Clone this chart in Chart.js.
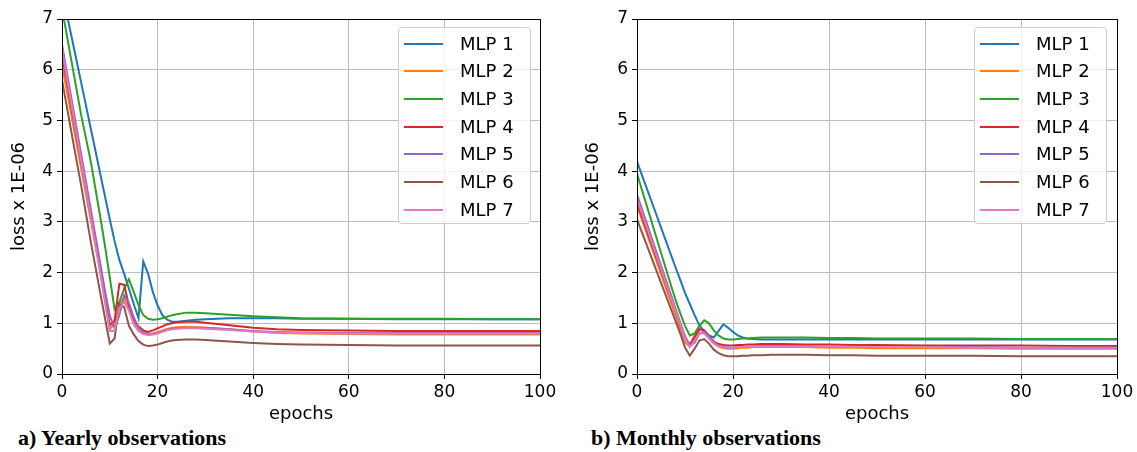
<!DOCTYPE html>
<html>
<head>
<meta charset="utf-8">
<script src="https://cdn.jsdelivr.net/npm/chart.js@4/dist/chart.umd.min.js"></script>
<style>
  html, body { margin: 0; padding: 0; background: #fff; }
  #page { position: relative; width: 1137px; height: 452px; overflow: hidden; background: #fff; }
  .panel { position: absolute; top: 0; }
  .legend {
    position: absolute; box-sizing: border-box; z-index: 2;
    border: 1px solid #cccccc; border-radius: 4px;
    background: rgba(255, 255, 255, 0.8);
    font-family: 'DejaVu Sans', sans-serif; font-size: 18px; color: #000;
  }
  .legend .swatch { position: absolute; height: 2px; }
  .legend .name { position: absolute; height: 28px; line-height: 28px; white-space: nowrap; }
  .caption {
    position: absolute; white-space: nowrap; color: #000;
    font-family: 'Liberation Serif', 'Times New Roman', serif; font-weight: bold;
    font-size: 22px; line-height: 1;
  }
</style>
</head>
<body>
<div id="page">
  <canvas id="yearly" class="panel" width="568" height="425" style="left:0px;width:568px;height:425px"></canvas>
  <canvas id="monthly" class="panel" width="569" height="425" style="left:568px;width:569px;height:425px"></canvas>
  <div class="caption" style="left:18px;top:427px">a) Yearly observations</div>
  <div class="caption" style="left:591px;top:427px">b) Monthly observations</div>
</div>
<script>
// Training epochs at which the loss is sampled (shared by every curve)
const EPOCHS = [0, 2, 4, 6, 8, 9, 10, 11, 12, 13, 14, 15, 16, 17, 18, 19, 20, 21, 22, 23, 24,
                26, 28, 30, 35, 40, 45, 50, 60, 70, 80, 90, 100];

const SERIES = ['MLP 1', 'MLP 2', 'MLP 3', 'MLP 4', 'MLP 5', 'MLP 6', 'MLP 7'];
const X_TICKS = [0, 20, 40, 60, 80, 100];
const Y_TICKS = [0, 1, 2, 3, 4, 5, 6, 7];

// Loss (x 1E-06) per epoch — yearly observations
const yearlyMLP1 = [7.55, 6.65, 5.75, 4.85, 3.95, 3.50, 3.05, 2.62, 2.25, 1.98, 1.68, 1.38, 1.10, 2.22, 1.98,
                    1.62, 1.35, 1.16, 1.07, 1.03, 1.03, 1.05, 1.07, 1.08, 1.10, 1.10, 1.10, 1.09, 1.09, 1.08,
                    1.08, 1.08, 1.08];
const yearlyMLP2 = [6.10, 5.08, 4.06, 3.04, 2.02, 1.45, 0.88, 1.00, 1.38, 1.50, 1.30, 1.02, 0.88, 0.81, 0.79,
                    0.80, 0.83, 0.86, 0.89, 0.91, 0.92, 0.93, 0.92, 0.91, 0.88, 0.84, 0.81, 0.80, 0.79, 0.78,
                    0.78, 0.78, 0.78];
const yearlyMLP3 = [7.21, 6.16, 5.11, 4.20, 3.10, 2.52, 1.90, 1.28, 1.42, 1.68, 1.87, 1.62, 1.36, 1.16, 1.09,
                    1.07, 1.08, 1.10, 1.13, 1.16, 1.18, 1.21, 1.21, 1.20, 1.17, 1.14, 1.12, 1.10, 1.09, 1.09,
                    1.09, 1.08, 1.08];
const yearlyMLP4 = [6.30, 5.24, 4.18, 3.12, 2.06, 1.50, 0.96, 1.05, 1.78, 1.76, 1.35, 1.08, 0.94, 0.86, 0.83,
                    0.86, 0.90, 0.94, 0.98, 1.00, 1.02, 1.03, 1.03, 1.01, 0.96, 0.91, 0.88, 0.87, 0.86, 0.85,
                    0.85, 0.85, 0.85];
const yearlyMLP5 = [6.50, 5.42, 4.34, 3.26, 2.18, 1.64, 1.15, 0.90, 1.16, 1.55, 1.40, 1.12, 0.92, 0.82, 0.78,
                    0.79, 0.81, 0.84, 0.87, 0.89, 0.90, 0.91, 0.91, 0.91, 0.88, 0.85, 0.83, 0.82, 0.81, 0.81,
                    0.81, 0.81, 0.81];
const yearlyMLP6 = [5.80, 4.75, 3.72, 2.62, 1.60, 1.10, 0.60, 0.70, 1.38, 1.32, 0.95, 0.78, 0.65, 0.58, 0.55,
                    0.56, 0.58, 0.61, 0.64, 0.66, 0.67, 0.68, 0.68, 0.67, 0.64, 0.61, 0.59, 0.58, 0.57, 0.56,
                    0.56, 0.56, 0.56];
const yearlyMLP7 = [6.40, 5.30, 4.20, 3.10, 2.00, 1.42, 0.85, 0.85, 1.30, 1.42, 1.25, 0.98, 0.85, 0.79, 0.77,
                    0.78, 0.80, 0.83, 0.86, 0.88, 0.89, 0.90, 0.90, 0.89, 0.87, 0.84, 0.82, 0.81, 0.80, 0.80,
                    0.80, 0.80, 0.80];

// Loss (x 1E-06) per epoch — monthly observations
const monthlyMLP1 = [4.19, 3.67, 3.15, 2.63, 2.11, 1.86, 1.60, 1.38, 1.16, 0.96, 0.85, 0.76, 0.72, 0.85, 0.98,
                     0.91, 0.83, 0.76, 0.72, 0.70, 0.69, 0.68, 0.68, 0.68, 0.68, 0.68, 0.68, 0.68, 0.68, 0.68,
                     0.68, 0.68, 0.68];
const monthlyMLP2 = [3.32, 2.78, 2.24, 1.70, 1.16, 0.89, 0.62, 0.55, 0.78, 0.90, 0.84, 0.70, 0.60, 0.54, 0.51,
                     0.50, 0.50, 0.51, 0.52, 0.52, 0.53, 0.53, 0.53, 0.53, 0.53, 0.52, 0.52, 0.51, 0.51, 0.51,
                     0.50, 0.50, 0.50];
const monthlyMLP3 = [3.95, 3.33, 2.70, 2.08, 1.47, 1.20, 0.95, 0.76, 0.80, 0.95, 1.06, 1.00, 0.86, 0.76, 0.70,
                     0.68, 0.68, 0.69, 0.70, 0.70, 0.71, 0.72, 0.72, 0.72, 0.72, 0.71, 0.71, 0.70, 0.70, 0.70,
                     0.69, 0.69, 0.69];
const monthlyMLP4 = [3.37, 2.84, 2.31, 1.78, 1.25, 0.98, 0.72, 0.58, 0.72, 0.88, 0.86, 0.74, 0.64, 0.59, 0.57,
                     0.56, 0.56, 0.57, 0.57, 0.58, 0.58, 0.59, 0.59, 0.59, 0.58, 0.58, 0.57, 0.57, 0.56, 0.56,
                     0.56, 0.55, 0.55];
const monthlyMLP5 = [3.54, 2.98, 2.42, 1.86, 1.30, 1.02, 0.75, 0.55, 0.62, 0.80, 0.83, 0.73, 0.62, 0.56, 0.53,
                     0.52, 0.52, 0.53, 0.53, 0.54, 0.54, 0.55, 0.55, 0.55, 0.55, 0.54, 0.54, 0.53, 0.53, 0.53,
                     0.52, 0.52, 0.52];
const monthlyMLP6 = [3.05, 2.55, 2.05, 1.55, 1.05, 0.80, 0.52, 0.36, 0.50, 0.66, 0.69, 0.60, 0.48, 0.41, 0.37,
                     0.35, 0.35, 0.35, 0.36, 0.36, 0.37, 0.37, 0.38, 0.38, 0.38, 0.37, 0.37, 0.36, 0.36, 0.36,
                     0.35, 0.35, 0.35];
const monthlyMLP7 = [3.45, 2.90, 2.35, 1.80, 1.25, 0.98, 0.70, 0.53, 0.66, 0.80, 0.80, 0.70, 0.61, 0.55, 0.53,
                     0.52, 0.52, 0.53, 0.53, 0.54, 0.54, 0.54, 0.54, 0.54, 0.54, 0.54, 0.53, 0.53, 0.53, 0.52,
                     0.52, 0.52, 0.52];

const yearlyLoss = [yearlyMLP1, yearlyMLP2, yearlyMLP3, yearlyMLP4, yearlyMLP5, yearlyMLP6, yearlyMLP7];
const monthlyLoss = [monthlyMLP1, monthlyMLP2, monthlyMLP3, monthlyMLP4, monthlyMLP5, monthlyMLP6, monthlyMLP7];

// matplotlib "tab10" colour cycle
const COLORS = ['#1f77b4', '#ff7f0e', '#2ca02c', '#d62728', '#9467bd', '#8c564b', '#e377c2'];
const FONT = 'DejaVu Sans';

// Black frame around the plotting area (all four spines)
const framePlugin = {
  id: 'frame',
  afterDatasetsDraw(chart) {
    const { ctx, chartArea: a } = chart;
    const l = Math.round(a.left), r = Math.round(a.right), t = Math.round(a.top), b = Math.round(a.bottom);
    ctx.save();
    ctx.strokeStyle = '#000';
    ctx.lineWidth = 1;
    ctx.strokeRect(l + 0.5, t + 0.5, r - l, b - t);
    ctx.restore();
  }
};

function makeChart(id, lossArrays, layout) {
  const datasets = SERIES.map((name, i) => ({
    label: name,
    data: EPOCHS.map((e, k) => ({ x: e, y: lossArrays[i][k] })),
    borderColor: COLORS[i],
    backgroundColor: COLORS[i],
    borderWidth: 2,
    pointRadius: 0,
    tension: 0,
    fill: false,
    order: SERIES.length - 1 - i   // later series drawn on top
  }));

  return new Chart(document.getElementById(id), {
    type: 'line',
    data: { datasets },
    options: {
      responsive: false,
      animation: false,
      events: [],
      layout: { padding: { top: 19, right: layout.padRight, left: 0, bottom: 0 } },
      plugins: { legend: { display: false }, tooltip: { enabled: false } },
      scales: {
        x: {
          type: 'linear', min: 0, max: 100,
          afterBuildTicks(s) { s.ticks = X_TICKS.map(v => ({ value: v })); },
          afterFit(s) { s.height = 51; },
          ticks: { color: '#000', font: { family: FONT, size: 17 }, padding: 3, maxRotation: 0, autoSkip: false },
          grid: { color: '#bdbdbd', lineWidth: 1, tickColor: '#000', tickLength: 5, tickWidth: 1 },
          border: { display: false },
          title: { display: true, text: 'epochs', color: '#000', font: { family: FONT, size: 18 },
                   padding: { top: 0, bottom: 0 } }
        },
        y: {
          type: 'linear', min: 0, max: 7,
          afterBuildTicks(s) { s.ticks = Y_TICKS.map(v => ({ value: v })); },
          afterFit(s) { s.width = layout.yWidth; },
          ticks: { color: '#000', font: { family: FONT, size: 17 }, padding: 4, autoSkip: false },
          grid: { color: '#bdbdbd', lineWidth: 1, tickColor: '#000', tickLength: 5, tickWidth: 1 },
          border: { display: false },
          title: { display: true, text: 'loss x 1E-06', color: '#000', font: { family: FONT, size: 18 },
                   padding: { top: layout.titlePad, bottom: 0 } }
        }
      }
    },
    plugins: [framePlugin]
  });
}

// Legend box in the upper-right corner of a panel
function buildLegend(left, top) {
  const page = document.getElementById('page');
  const box = document.createElement('div');
  box.className = 'legend';
  box.style.left = left + 'px';
  box.style.top = top + 'px';
  box.style.width = '133px';
  box.style.height = '197px';
  SERIES.forEach((name, i) => {
    const cy = 15.5 + 27.7 * i;
    const sw = document.createElement('div');
    sw.className = 'swatch';
    sw.style.left = '5px';
    sw.style.width = '39px';
    sw.style.top = (cy - 1) + 'px';
    sw.style.background = COLORS[i];
    box.appendChild(sw);
    const tx = document.createElement('div');
    tx.className = 'name';
    tx.style.left = '61px';
    tx.style.top = (cy - 14) + 'px';
    tx.textContent = name;
    box.appendChild(tx);
  });
  page.appendChild(box);
}

makeChart('yearly', yearlyLoss, { yWidth: 62, padRight: 28, titlePad: 8.5 });
makeChart('monthly', monthlyLoss, { yWidth: 69, padRight: 20, titlePad: 15 });
buildLegend(398, 27);
buildLegend(974, 27);
</script>
</body>
</html>
